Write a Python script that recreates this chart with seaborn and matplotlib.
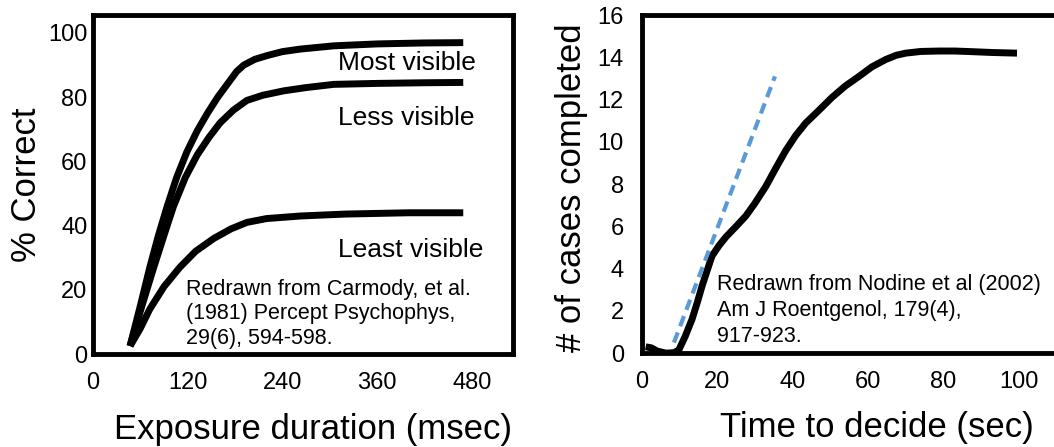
import numpy as np
import pandas as pd
import matplotlib.pyplot as plt
import seaborn as sns

# left panel: % correct vs exposure duration
exposure_ms = [47, 60, 72, 83, 94, 106, 119, 132, 145, 158, 170, 182, 191, 205, 221, 240, 263, 305, 360, 420, 469]
most_visible = [2.5, 15, 27, 37, 46, 55, 63, 69.5, 75, 80, 84, 88, 90, 91.8, 93, 94.2, 95, 96, 96.6, 96.9, 97]
less_exposure_ms = [47, 62, 77, 90, 102, 117, 132, 147, 161, 178, 195, 215, 242, 270, 305, 360, 420, 469]
less_visible = [2.5, 15, 27, 37, 46, 55, 62, 67.5, 72, 76, 79, 80.6, 82, 83, 84, 84.3, 84.5, 84.6]
least_exposure_ms = [47, 60, 72, 90, 110, 130, 153, 175, 195, 220, 263, 320, 400, 469]
least_visible = [2.5, 8, 14, 21, 27, 32, 36, 39, 41, 42.2, 43, 43.6, 44, 44]

# right panel: cases completed vs time to decide
decide_sec = [1, 2.5, 4, 6.4, 8.5, 9.8, 11.5, 13.3, 14.7, 16, 17.3, 18.6, 20.5, 22.3, 25, 27.6, 30,
              32.9, 35.5, 38.2, 40.8, 43.5, 47, 50.4, 54, 57.6, 61, 64.7, 67.5, 70, 74, 78.8, 83, 87.5, 93, 99.5]
cases_done = [0.3, 0.25, 0.1, 0.0, 0.02, 0.15, 0.8, 1.6, 2.4, 3.2, 3.9, 4.6, 5.1, 5.5, 6.0, 6.5, 7.1,
              7.9, 8.75, 9.6, 10.3, 10.9, 11.5, 12.1, 12.65, 13.1, 13.55, 13.9, 14.1, 14.2, 14.28, 14.3, 14.3, 14.27, 14.23, 14.2]
trend_sec = [8.5, 35.3]
trend_cases = [0.5, 13.1]

left_xticks = [0, 120, 240, 360, 480]
left_yticks = [0, 20, 40, 60, 80, 100]
right_xticks = [0, 20, 40, 60, 80, 100]
right_yticks = [0, 2, 4, 6, 8, 10, 12, 14, 16]

sns.set_style("white")
plt.rcParams['font.family'] = ['Liberation Sans', 'DejaVu Sans']
plt.rcParams['text.color'] = 'black'
plt.rcParams['axes.labelcolor'] = 'black'
plt.rcParams['xtick.color'] = 'black'
plt.rcParams['ytick.color'] = 'black'

fig = plt.figure(figsize=(10.54, 4.47), dpi=100)
ax1 = fig.add_axes([0.0882, 0.208, 0.3985, 0.7584])
ax2 = fig.add_axes([0.609, 0.210, 0.4006, 0.7562])  # right spine runs off the canvas

# left panel curves
for xs, ys in [(exposure_ms, most_visible), (less_exposure_ms, less_visible),
               (least_exposure_ms, least_visible)]:
    df = pd.DataFrame({'x': xs, 'y': ys})
    sns.lineplot(data=df, x='x', y='y', ax=ax1, color='black', lw=5,
                 solid_capstyle='butt', solid_joinstyle='round', sort=False)

ax1.set_xlim(0, 532)
ax1.set_ylim(0, 105.6)
ax1.set_xticks(left_xticks)
ax1.set_yticks(left_yticks)
ax1.set_xlabel('Exposure duration (msec)', fontsize=25)
ax1.set_ylabel('% Correct', fontsize=25)
ax1.xaxis.set_label_coords(0.525, -0.173)
ax1.yaxis.set_label_coords(-0.12, 0.5)

ax1.text(310, 90.5, 'Most visible', fontsize=19, va='center')
ax1.text(310, 73.5, 'Less visible', fontsize=19, va='center')
ax1.text(310, 32.5, 'Least visible', fontsize=19, va='center')
ax1.text(118, 23.4, 'Redrawn from Carmody, et al.\n(1981) Percept Psychophys,\n29(6), 594-598.',
         fontsize=15.5, va='top', linespacing=1.22)

# right panel
df2 = pd.DataFrame({'t': decide_sec, 'n': cases_done})
sns.lineplot(data=df2, x='t', y='n', ax=ax2, color='black', lw=5,
             solid_capstyle='butt', sort=False)
df3 = pd.DataFrame({'t': trend_sec, 'n': trend_cases})
sns.lineplot(data=df3, x='t', y='n', ax=ax2, color='#5b9bd5', lw=3,
             linestyle=(0, (2.6, 1.6)), sort=False)

ax2.set_xlim(0, 112)
ax2.set_ylim(0, 16)
ax2.set_xticks(right_xticks)
ax2.set_yticks(right_yticks)
ax2.set_xlabel('Time to decide (sec)', fontsize=25)
ax2.set_ylabel('# of cases completed', fontsize=25)
ax2.xaxis.set_label_coords(0.557, -0.17)
ax2.yaxis.set_label_coords(-0.128, 0.49)
ax2.text(20, 3.76, 'Redrawn from Nodine et al (2002)\nAm J Roentgenol, 179(4),\n917-923.',
         fontsize=15.5, va='top', linespacing=1.32)

for ax in (ax1, ax2):
    ax.tick_params(axis='x', labelsize=17, length=0, pad=13)
    ax.tick_params(axis='y', labelsize=17, length=0, pad=4)
    for side in ax.spines.values():
        side.set_linewidth(3.5)
        side.set_color('black')
    ax.grid(False)
ax2.tick_params(axis='y', pad=13)

fig.savefig('out.png', dpi=100)
